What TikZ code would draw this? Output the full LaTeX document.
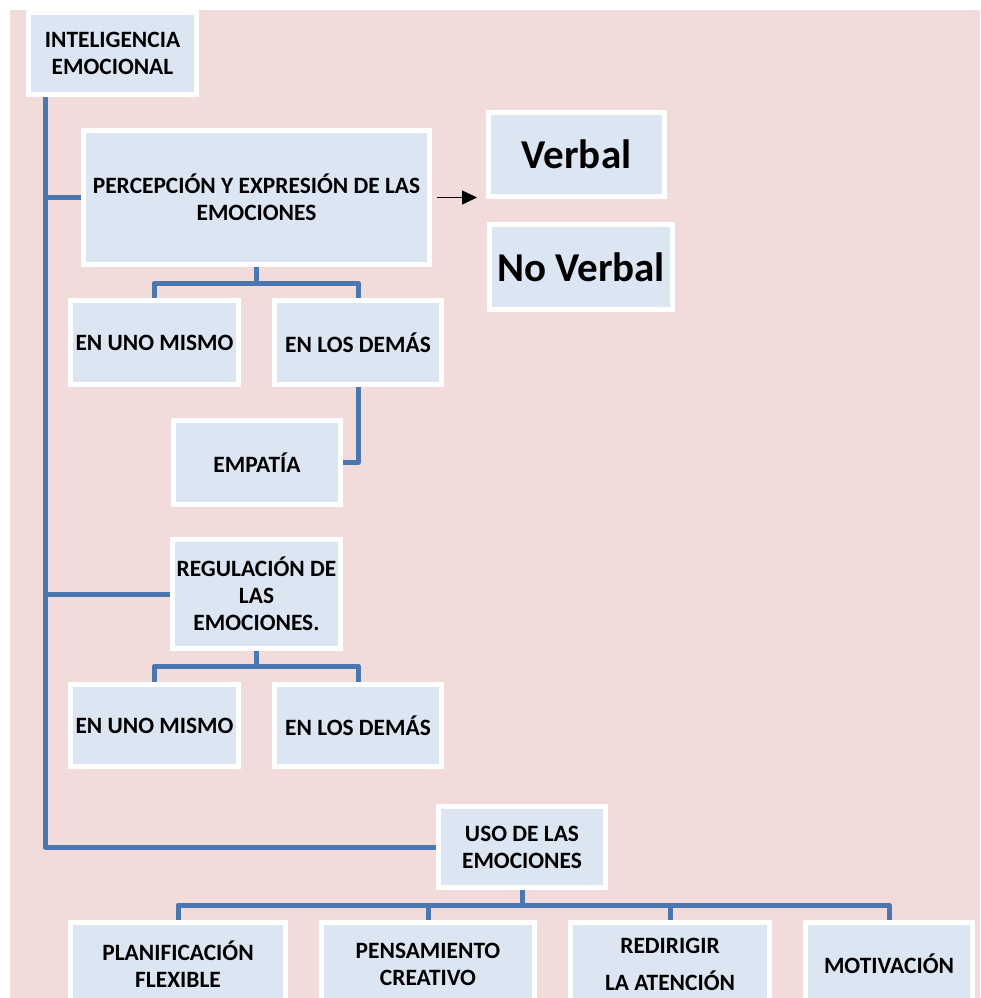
\documentclass[tikz,border=0pt]{standalone}
\usepackage{fontspec}
\setmainfont{Carlito}
\usetikzlibrary{arrows.meta}
\definecolor{bgpink}{HTML}{F2DCDB}
\definecolor{boxblue}{HTML}{DCE6F2}
\definecolor{linkblue}{HTML}{4A77B0}
\tikzset{
  box/.style={draw=white, line width=5pt, fill=boxblue, inner sep=0pt,
    align=center, font=\fontsize{23.4}{27}\selectfont\bfseries},
  bigbox/.style={box, font=\fontsize{41}{48}\selectfont\bfseries},
  conn/.style={draw=linkblue, line width=5pt, line join=round},
  arr/.style={draw=black, line width=1.5pt, -{Triangle[length=15pt,width=14pt]}}
}
\begin{document}
\begin{tikzpicture}[x=1pt,y=-1pt]
\useasboundingbox (0,0) rectangle (980,998);
\clip (0,0) rectangle (980,998);
\fill[bgpink] (10,10) rectangle (1000,1020);

% concept boxes (size = outer size minus border width)
\node[box, minimum width=168pt, minimum height=82pt] (ie) at (112.5,53.5) {INTELIGENCIA\\EMOCIONAL};
\node[box, minimum width=346pt, minimum height=134pt] (per) at (256.5,197.5) {PERCEPCIÓN Y EXPRESIÓN DE LAS\\EMOCIONES};
\node[bigbox, minimum width=176pt, minimum height=84pt] (verbal) at (576.5,154.5) {Verbal};
\node[bigbox, minimum width=183pt, minimum height=85pt] (noverbal) at (581,267) {No Verbal};
\node[box, minimum width=168pt, minimum height=84pt] (uA) at (154.5,342.5) {EN UNO MISMO};
\node[box, minimum width=167pt, minimum height=84pt] (dA) at (358,342.5) {EN LOS DEMÁS};
\node[box, minimum width=167pt, minimum height=84pt] (emp) at (257,462.5) {EMPATÍA};
\node[box, minimum width=168pt, minimum height=109pt] (reg) at (256.5,594) {REGULACIÓN DE\\LAS\\EMOCIONES.};
\node[box, minimum width=168pt, minimum height=82pt] (uB) at (154.5,725.5) {EN UNO MISMO};
\node[box, minimum width=167pt, minimum height=82pt] (dB) at (358,725.5) {EN LOS DEMÁS};
\node[box, minimum width=167pt, minimum height=81pt] (uso) at (522,847) {USO DE LAS\\EMOCIONES};
\node[box, minimum width=215pt, minimum height=83pt] (plan) at (178,964) {PLANIFICACIÓN\\FLEXIBLE};
\node[box, minimum width=213pt, minimum height=83pt] (pens) at (428,964) {PENSAMIENTO\\CREATIVO};
\node[box, minimum width=199pt, minimum height=83pt] (redir) at (670,964) {REDIRIGIR\\[10pt]LA ATENCIÓN};
\node[box, minimum width=167pt, minimum height=83pt] (motiv) at (889,964) {MOTIVACIÓN};

% main trunk and its branches
\coordinate (trunk) at ([xshift=19pt]ie.south west);
\draw[conn] (trunk) |- (uso.west);
\draw[conn] (per.west) -- (per.west -| trunk);
\draw[conn] (reg.west) -- (reg.west -| trunk);

% perception branch
\draw[conn] (per.south) -- ++(0,16) -| (uA.north);
\draw[conn] (per.south) -- ++(0,16) -| (dA.north);
\draw[conn] (dA.south) |- (emp.east);
\draw[arr] ([xshift=5pt]per.east) -- ([xshift=-9pt]per.east -| verbal.west);

% regulation branch
\draw[conn] (reg.south) -- ++(0,15) -| (uB.north);
\draw[conn] (reg.south) -- ++(0,15) -| (dB.north);

% use branch
\draw[conn] (uso.south) -- ++(0,15) -| (plan.north);
\draw[conn] (uso.south) -- ++(0,15) -| (pens.north);
\draw[conn] (uso.south) -- ++(0,15) -| (redir.north);
\draw[conn] (uso.south) -- ++(0,15) -| (motiv.north);
\end{tikzpicture}
\end{document}
